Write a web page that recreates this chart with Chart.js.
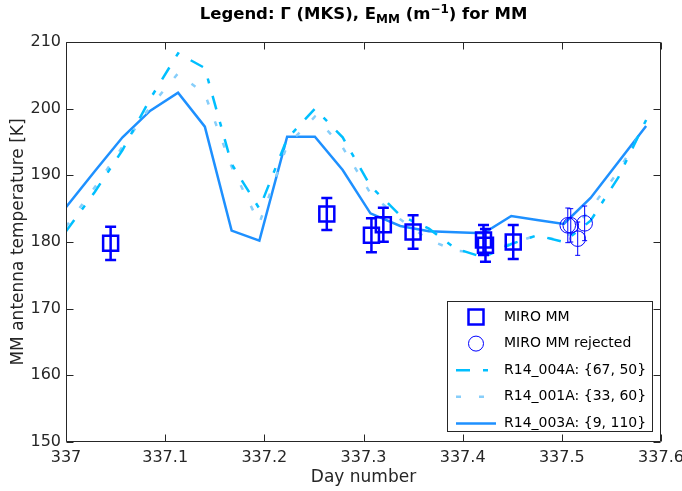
<!DOCTYPE html>
<html>
<head>
<meta charset="utf-8">
<script src="https://cdn.jsdelivr.net/npm/chart.js@4/dist/chart.umd.min.js"></script>
<style>
  html, body { margin: 0; padding: 0; background: #fff; }
  #wrap { position: relative; width: 682px; height: 491px; overflow: hidden; }
  #title { position: absolute; top: 3px; left: 66px; width: 595px; text-align: center;
           font: bold 16.5px "DejaVu Sans", sans-serif; color: #000; line-height: 22px; white-space: nowrap; }
  #title sub, #title sup { font-size: 12px; line-height: 0; }
  canvas { position: absolute; left: 0; top: 0; }
</style>
</head>
<body>
<div id="wrap">
  <canvas id="c" width="682" height="491"></canvas>
  <div id="title">Legend: Γ (MKS), E<sub>MM</sub> (m<sup>−1</sup>) for MM</div>
</div>
<script>
// ---- data ----
const xTickLabels = ['337', '337.1', '337.2', '337.3', '337.4', '337.5', '337.6'];
const yTickLabels = ['150', '160', '170', '180', '190', '200', '210'];

// model time grid (day number)
const modelDays = [337.000, 337.029, 337.057, 337.085, 337.113, 337.140, 337.167, 337.195,
                   337.223, 337.251, 337.279, 337.307, 337.337, 337.366, 337.393, 337.421,
                   337.449, 337.475, 337.502, 337.529, 337.557, 337.585];
const r14_004A = [181.6, 187.5, 193.8, 201.5, 208.3, 206.1, 191.7, 185.0, 195.5, 200.0, 195.7,
                  188.4, 184.0, 182.0, 179.0, 177.7, 179.7, 181.0, 180.0, 183.2, 189.7, 198.3];
const r14_001A = [182.3, 188.2, 194.3, 200.3, 205.3, 202.2, 191.3, 182.8, 194.5, 198.8, 194.2,
                  187.3, 183.4, 180.3, 178.7, 178.3, 179.8, 181.0, 180.1, 185.0, 190.6, 197.9];
const r14_003A = [185.2, 190.6, 195.7, 199.7, 202.4, 197.3, 181.7, 180.2, 195.8, 195.8, 190.8,
                  184.3, 182.4, 181.6, 181.45, 181.3, 183.9, 183.3, 182.7, 186.6, 192.0, 197.4];

// MIRO MM measurements
const mmDays = [337.045, 337.263, 337.308, 337.320, 337.350, 337.421, 337.423, 337.451];
const mmTemp = [179.8, 184.2, 181.0, 182.6, 181.5, 180.3, 179.5, 180.0];
const mmErr  = [2.5, 2.4, 2.55, 2.55, 2.5, 2.25, 2.45, 2.55];

// MIRO MM rejected
const rejDays = [337.506, 337.509, 337.516, 337.523];
const rejTemp = [182.5, 182.5, 180.5, 182.8];
const rejErr  = [2.6, 2.5, 2.5, 2.6];

const seriesLabels = ['MIRO MM', 'MIRO MM rejected', 'R14_004A: {67, 50}', 'R14_001A: {33, 60}', 'R14_003A: {9, 110}'];

// ---- helpers ----
const pts = (xs, ys) => xs.map((v, i) => ({ x: v, y: ys[i] }));
const FONT = '"DejaVu Sans", sans-serif';
const AXC = '#262626';

const errorBars = {
  id: 'errorBars',
  afterDatasetsDraw(chart) {
    const { ctx, scales: { x, y } } = chart;
    [[0, mmErr, 2.5, 5.5], [1, rejErr, 1, 2.5]].forEach(([di, errs, lw, cap]) => {
      const ds = chart.data.datasets[di];
      ctx.save();
      ctx.strokeStyle = ds.borderColor;
      ctx.lineWidth = lw;
      ds.data.forEach((p, i) => {
        const px = x.getPixelForValue(p.x);
        const y1 = y.getPixelForValue(p.y + errs[i]);
        const y2 = y.getPixelForValue(p.y - errs[i]);
        ctx.beginPath();
        ctx.moveTo(px, y1); ctx.lineTo(px, y2);
        ctx.moveTo(px - cap, y1); ctx.lineTo(px + cap, y1);
        ctx.moveTo(px - cap, y2); ctx.lineTo(px + cap, y2);
        ctx.stroke();
      });
      ctx.restore();
    });
  }
};

const frameTicks = {
  id: 'frameTicks',
  afterDraw(chart) {
    const { ctx, chartArea: a, scales: { x, y } } = chart;
    const L = Math.round(a.left) + 0.5, R = Math.round(a.right) - 0.5;
    const T = Math.round(a.top) + 0.5, B = Math.round(a.bottom) - 0.5;
    const tl = 7;
    ctx.save();
    ctx.strokeStyle = AXC;
    ctx.lineWidth = 1;
    ctx.beginPath();
    ctx.rect(L, T, R - L, B - T);
    x.ticks.forEach(t => {
      const px = Math.round(x.getPixelForValue(t.value)) + 0.5;
      ctx.moveTo(px, B); ctx.lineTo(px, B - tl);
      ctx.moveTo(px, T); ctx.lineTo(px, T + tl);
    });
    y.ticks.forEach(t => {
      const py = Math.round(y.getPixelForValue(t.value)) + 0.5;
      ctx.moveTo(L, py); ctx.lineTo(L + tl, py);
      ctx.moveTo(R, py); ctx.lineTo(R - tl, py);
    });
    ctx.stroke();
    ctx.restore();
  }
};

const boxLegend = {
  id: 'boxLegend',
  afterDraw(chart) {
    const { ctx, chartArea: a } = chart;
    const W = 206, H = 131;
    const R = Math.round(a.right) - 8, B = Math.round(a.bottom) - 10;
    const L = R - W, T = B - H;
    ctx.save();
    ctx.fillStyle = '#fff';
    ctx.fillRect(L, T, W, H);
    ctx.strokeStyle = AXC;
    ctx.lineWidth = 1;
    ctx.strokeRect(L + 0.5, T + 0.5, W - 1, H - 1);
    ctx.font = '14px ' + FONT;
    ctx.textBaseline = 'middle';
    ctx.textAlign = 'left';
    chart.data.datasets.forEach((ds, i) => {
      const cy = T + 16 + i * 26.6;
      const cx = L + 29;
      ctx.save();
      ctx.strokeStyle = ds.borderColor;
      if (ds.showLine === false) {
        ctx.lineWidth = ds.pointBorderWidth;
        ctx.setLineDash([]);
        ctx.beginPath();
        if (ds.pointStyle === 'rect') {
          ctx.rect(cx - 7.5, cy - 7.5, 15, 15);
        } else {
          ctx.arc(cx, cy, 7.5, 0, Math.PI * 2);
        }
        ctx.stroke();
      } else {
        ctx.lineWidth = ds.borderWidth;
        ctx.setLineDash(ds.borderDash || []);
        ctx.beginPath();
        ctx.moveTo(L + 9, cy); ctx.lineTo(L + 49, cy);
        ctx.stroke();
      }
      ctx.restore();
      ctx.fillStyle = '#000';
      ctx.fillText(ds.label, L + 57, cy);
    });
    ctx.restore();
  }
};

new Chart(document.getElementById('c'), {
  type: 'line',
  data: {
    datasets: [
      { label: seriesLabels[0], data: pts(mmDays, mmTemp), showLine: false,
        pointStyle: 'rect', pointRadius: 10.6, pointBorderWidth: 2.5,
        borderColor: '#0000FF', pointBorderColor: '#0000FF', pointBackgroundColor: 'rgba(0,0,0,0)' },
      { label: seriesLabels[1], data: pts(rejDays, rejTemp), showLine: false,
        pointStyle: 'circle', pointRadius: 7.8, pointBorderWidth: 1,
        borderColor: '#0000FF', pointBorderColor: '#0000FF', pointBackgroundColor: 'rgba(0,0,0,0)' },
      { label: seriesLabels[2], data: pts(modelDays, r14_004A), borderColor: '#00BFFF',
        borderWidth: 2.5, borderDash: [14, 13, 5, 13], pointRadius: 0, tension: 0, fill: false },
      { label: seriesLabels[3], data: pts(modelDays, r14_001A), borderColor: '#87CEFA',
        borderWidth: 2.5, borderDash: [5, 18], pointRadius: 0, tension: 0, fill: false },
      { label: seriesLabels[4], data: pts(modelDays, r14_003A), borderColor: '#1E90FF',
        borderWidth: 2.5, pointRadius: 0, tension: 0, fill: false }
    ]
  },
  options: {
    responsive: false,
    animation: false,
    devicePixelRatio: 1,
    layout: { padding: { top: 42, right: 21, left: 0, bottom: 0 } },
    plugins: { legend: { display: false }, title: { display: false }, tooltip: { enabled: false } },
    scales: {
      x: {
        type: 'linear', min: 337, max: 337.6,
        grid: { display: false, drawTicks: false },
        border: { display: false },
        ticks: { stepSize: 0.1, maxRotation: 0, autoSkip: false, padding: 6, color: AXC,
                 font: { family: FONT, size: 16 },
                 callback: (v, i) => xTickLabels[i] },
        title: { display: true, text: 'Day number', color: AXC, font: { family: FONT, size: 17 },
                 padding: { top: 0, bottom: 3 } },
        afterFit: s => { s.height = 49; s.paddingLeft = 0; s.paddingRight = 0; }
      },
      y: {
        type: 'linear', min: 150, max: 210,
        grid: { display: false, drawTicks: false },
        border: { display: false },
        ticks: { stepSize: 10, padding: 5, color: AXC, font: { family: FONT, size: 16 },
                 callback: (v, i) => yTickLabels[i] },
        title: { display: true, text: 'MM antenna temperature [K]', color: AXC,
                 font: { family: FONT, size: 17 }, padding: { top: 8, bottom: 0 } },
        afterFit: s => { s.width = 66; s.paddingTop = 0; s.paddingBottom = 0; }
      }
    }
  },
  plugins: [errorBars, frameTicks, boxLegend]
});
</script>
</body>
</html>
